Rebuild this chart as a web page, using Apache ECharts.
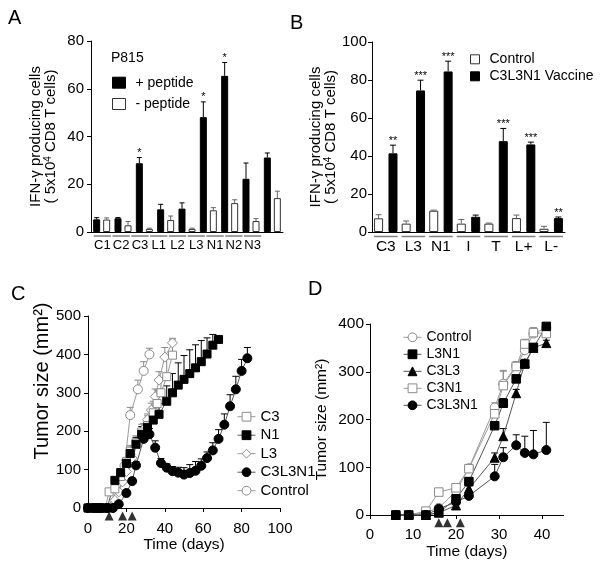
<!DOCTYPE html>
<html><head><meta charset="utf-8">
<script src="https://cdn.jsdelivr.net/npm/echarts@6/dist/echarts.min.js"></script>
<style>html,body{margin:0;padding:0;background:#fff}#c{width:600px;height:571px}</style>
</head><body><div id="c"></div>
<script>
// ---------- Panel A ----------
const catA = ['C1','C2','C3','L1','L2','L3','N1','N2','N3'];
const plusA = [5.3,5.75,28.8,9.5,9.8,48.1,65.4,22.3,31.2];
const plusErrA = [0.7,0.3,2.4,2.1,2.4,6.4,5.6,6.6,1.9];
const minusA = [5.2,2.8,1.3,5.0,1.3,9.1,12.1,4.6,14.2];
const minusErrA = [0.7,1.6,0.3,1.7,0.3,1.1,1.4,1.0,2.9];
const starsA = ['','','*','','','*','*','',''];

// ---------- Panel B ----------
const catB = ['C3','L3','N1','I','T','L+','L-'];
const controlB = [7.2,4.4,11.2,4.4,4.4,7.3,1.7];
const controlErrB = [1.9,1.4,0.3,2.2,0.3,1.6,1.3];
const vaccineB = [41.4,74.5,84.5,8.0,47.8,46.1,7.3];
const vaccineErrB = [4.3,5.4,5.4,0.9,6.7,1.2,0.6];
const starsB = ['**','***','***','','***','***','**'];

// ---------- Panel C ----------
const daysC_C3 = [0,3,5,7,9,11,14,17,20,22,25,28,31,34,36,38,41,44];
const valC_C3  = [0,0,0,0,0,42,50,82,120,148,170,198,215,248,272,300,342,398];
const errC_C3  = [0,0,0,0,0,5,8,10,12,15,18,20,25,30,35,40,55,40];
const daysC_N1 = [0,3,5,7,10,14,17,20,22,25,28,31,34,37,41,44,47,50,53,56,59,62,65,68];
const valC_N1  = [0,0,0,0,0,72,92,116,142,166,192,210,229,244,278,300,320,335,350,365,381,401,424,439];
const errC_N1  = [0,0,0,0,0,8,10,12,16,18,20,22,25,28,40,50,58,62,62,60,55,42,28,10];
const daysC_L3 = [0,3,5,7,10,14,16,18,20,23,26,29,31,33,35,37,40,44];
const valC_L3  = [0,0,0,0,0,20,42,68,95,130,170,205,230,255,290,333,393,430];
const errC_L3  = [0,0,0,0,0,4,5,6,8,10,12,15,15,18,20,22,25,12];
const daysC_V  = [0,3,5,7,10,13,16,20,23,25,29,32,35,38,41,44,47,50,53,56,59,62,65,68,71,74,77,80,83];
const valC_V   = [0,0,0,0,0,0,10,39,70,111,180,192,157,117,105,96,92,87,91,97,110,130,150,180,217,265,309,357,390];
const errC_V   = [0,0,0,0,0,0,3,5,8,10,12,15,18,12,10,12,14,18,22,24,18,16,20,24,28,30,34,30,28];
const daysC_Ct = [0,3,5,7,10,13,16,19,22,26,29,32];
const valC_Ct  = [0,0,0,0,0,5,30,110,242,309,357,400];
const errC_Ct  = [0,0,0,0,0,3,8,15,20,24,24,16];
const treatC   = [11,18,23];

// ---------- Panel D ----------
const daysD = [6,9,13,16,20,23,29,31,34,36,38,41];
const valD_Ct   = [0,0,5,15,50,98,225,275,312,345,380,392];
const errD_Ct   = [0,0,2,4,6,8,10,28,8,10,12,5];
const valD_L3N1 = [0,0,0,5,34,70,187,234,285,316,351,395];
const errD_L3N1 = [0,0,0,2,5,6,8,10,8,8,6,5];
const valD_C3L3 = [0,0,0,5,20,55,120,165,255,318,350,360];
const errD_C3L3 = [0,0,0,3,5,6,10,16,8,8,8,6];
const valD_C3N1 = [0,0,8,48,57,97,212,271,311,358,382,380];
const errD_C3N1 = [0,0,3,6,6,8,10,30,10,10,10,8];
const valD_V    = [0,0,0,13,27,40,81,121,146,130,127,136];
const errD_V    = [0,0,0,3,4,6,25,20,22,35,50,58];
const treatD    = [16,18,21];
const ticksD    = [0,10,20,30,40];

const F = 'Liberation Sans, Arial, Helvetica, sans-serif';
const chart = echarts.init(document.getElementById('c'));

function yAx(grid, max, interval, extra) {
  return Object.assign({
    type:'value', gridIndex:grid, min:0, max:max, interval:interval,
    axisLine:{show:true, lineStyle:{color:'#000', width:1}},
    axisTick:{show:true, length:4, lineStyle:{color:'#000'}},
    splitLine:{show:false},
    axisLabel:{color:'#000', fontSize:15, fontFamily:F, margin:7}
  }, extra || {});
}
const ifnName = '{a|IFN-γ producing cells}\n{a|( 5x10}{s|4}{a| CD8 T cells)}';
const ifnStyle = {color:'#000', fontFamily:F, fontSize:15, lineHeight:15,
  rich:{a:{fontSize:15, fontFamily:F, color:'#000', lineHeight:15},
        s:{fontSize:10, fontFamily:F, color:'#000', verticalAlign:'top', lineHeight:10}}};

function barErr(vals, errs, stars, offset, color, cap) {
  return function(params, api) {
    const i = params.dataIndex;
    const base = api.coord([i, vals[i]]);
    const top = api.coord([i, vals[i] + errs[i]]);
    const x = base[0] + offset;
    const ch = [
      {type:'line', shape:{x1:x, y1:base[1], x2:x, y2:top[1]}, style:{stroke:color, lineWidth:1}},
      {type:'line', shape:{x1:x-cap/2, y1:top[1], x2:x+cap/2, y2:top[1]}, style:{stroke:color, lineWidth:1}}
    ];
    if (stars && stars[i]) {
      ch.push({type:'text', x:x, y:top[1]+1, style:{text:stars[i], fontSize:11, fontFamily:F, fill:'#000', align:'center', verticalAlign:'bottom'}});
    }
    return {type:'group', children:ch};
  };
}
function underline(frac, dy) {
  return function(params, api) {
    const c = api.coord([params.dataIndex, 0]);
    const bw = api.size([1, 0])[0];
    return {type:'line', shape:{x1:c[0]-bw*frac, y1:c[1]+dy, x2:c[0]+bw*frac, y2:c[1]+dy},
            style:{stroke:'#808080', lineWidth:1.5}};
  };
}
function ptErr(color) {
  return function(params, api) {
    const x = api.value(0), y = api.value(1), e = api.value(2);
    if (!e) return null;
    const b = api.coord([x, y]), t = api.coord([x, y + e]);
    return {type:'group', children:[
      {type:'line', shape:{x1:b[0], y1:b[1], x2:t[0], y2:t[1]}, style:{stroke:color, lineWidth:1}},
      {type:'line', shape:{x1:t[0]-3.5, y1:t[1], x2:t[0]+3.5, y2:t[1]}, style:{stroke:color, lineWidth:1}}
    ]};
  };
}
function lineSeries(name, xi, days, vals, symbol, size, fill, border, lineColor) {
  return {type:'line', name:name, xAxisIndex:xi, yAxisIndex:xi, data:days.map((d,i)=>[d, vals[i]]),
    symbol:symbol, symbolSize:size, showSymbol:true, silent:true, z:3,
    itemStyle:{color:fill, borderColor:border, borderWidth:1},
    lineStyle:{color:lineColor, width:1}};
}
function errSeries(xi, days, vals, errs, color) {
  return {type:'custom', xAxisIndex:xi, yAxisIndex:xi, silent:true, z:2, clip:false,
    data:days.map((d,i)=>[d, vals[i], errs[i]]), encode:{x:0, y:1}, renderItem:ptErr(color)};
}
const GRAY = '#8a8a8a', GLINE = '#9a9a9a', BLINE = '#555';

const option = {
  animation:false,
  backgroundColor:'#fff',
  textStyle:{fontFamily:F},
  grid:[
    {left:91, top:41, width:192, height:191},
    {left:93, top:232, width:169, height:4},
    {left:372, top:42, width:193, height:190},
    {left:88, top:316, width:192, height:192},
    {left:370, top:324, width:193.5, height:191}
  ],
  xAxis:[
    {type:'category', gridIndex:0, data:catA, axisLine:{lineStyle:{color:'#000'}}, axisTick:{show:false}, axisLabel:{show:false}},
    {type:'category', gridIndex:1, data:catA, axisLine:{show:false}, axisTick:{show:false},
      axisLabel:{color:'#000', fontSize:13, fontFamily:F, margin:3, interval:0}},
    {type:'category', gridIndex:2, data:catB, axisLine:{lineStyle:{color:'#000'}}, axisTick:{show:false},
      axisLabel:{color:'#000', fontSize:15.5, fontFamily:F, margin:7, interval:0}},
    {type:'value', gridIndex:3, min:0, max:100, interval:20, splitLine:{show:false},
      axisLine:{lineStyle:{color:'#000'}}, axisTick:{length:4, lineStyle:{color:'#000'}},
      axisLabel:{color:'#000', fontSize:15, fontFamily:F, margin:13},
      name:'Time (days)', nameLocation:'middle', nameGap:28, nameTextStyle:{color:'#000', fontSize:15.5, fontFamily:F}},
    {type:'value', gridIndex:4, min:0, max:45, splitLine:{show:false},
      axisLine:{lineStyle:{color:'#000'}}, axisTick:{length:4, lineStyle:{color:'#000'}, customValues:ticksD},
      axisLabel:{color:'#000', fontSize:15, fontFamily:F, margin:12, customValues:ticksD},
      name:'Time (days)', nameLocation:'middle', nameGap:29, nameTextStyle:{color:'#000', fontSize:15.5, fontFamily:F}}
  ],
  yAxis:[
    yAx(0, 80, 20, {name:ifnName, nameLocation:'middle', nameGap:33, nameTextStyle:ifnStyle}),
    {type:'value', gridIndex:1, min:0, max:1, show:false},
    yAx(2, 100, 20, {axisLabel:{color:'#000', fontSize:15, fontFamily:F, margin:5},
      name:ifnName, nameLocation:'middle', nameGap:32, nameTextStyle:Object.assign({}, ifnStyle, {lineHeight:14})}),
    yAx(3, 500, 100, {name:'Tumor size (mm²)', nameLocation:'middle', nameGap:35,
      nameTextStyle:{color:'#000', fontSize:20, fontFamily:F, padding:[0,0,0,62]}}),
    yAx(4, 400, 100, {axisLabel:{color:'#000', fontSize:15.5, fontFamily:F, margin:6},
      name:'Tumor size (mm²)', nameLocation:'middle', nameGap:40,
      nameTextStyle:{color:'#000', fontSize:15.5, fontFamily:F}})
  ],
  legend:[
    {left:107, top:70.7, orient:'vertical', data:['+ peptide','- peptide'], icon:'rect', itemWidth:13, itemHeight:11, itemGap:7.3,
      selectedMode:false, itemStyle:{borderWidth:1}, textStyle:{color:'#000', fontSize:14, fontFamily:F, padding:[0,0,0,5]}},
    {left:465, top:47.3, orient:'vertical', data:['Control','C3L3N1 Vaccine'], icon:'rect', itemWidth:9, itemHeight:9, itemGap:3,
      selectedMode:false, itemStyle:{borderWidth:1}, textStyle:{color:'#000', fontSize:14, fontFamily:F, padding:[0,0,0,5]}},
    {left:232, top:404.2, orient:'vertical', data:['C3#C','N1#C','L3#C','C3L3N1#C','Control#C'], itemWidth:18, itemHeight:11, itemGap:3.5,
      selectedMode:false, itemStyle:{borderWidth:1}, lineStyle:{width:1},
      formatter:n=>n.split('#')[0], textStyle:{color:'#000', fontSize:15, fontFamily:F}},
    {left:398, top:325.3, orient:'vertical', data:['Control#D','L3N1#D','C3L3#D','C3N1#D','C3L3N1#D'], itemWidth:18, itemHeight:11, itemGap:3,
      selectedMode:false, itemStyle:{borderWidth:1}, lineStyle:{width:1},
      formatter:n=>n.split('#')[0], textStyle:{color:'#000', fontSize:14, fontFamily:F}}
  ],
  graphic:[
    {type:'text', left:8, top:8, style:{text:'A', font:'20px '+F, fill:'#000'}},
    {type:'text', left:290, top:13, style:{text:'B', font:'20px '+F, fill:'#000'}},
    {type:'text', left:11, top:284, style:{text:'C', font:'20px '+F, fill:'#000'}},
    {type:'text', left:308, top:279, style:{text:'D', font:'20px '+F, fill:'#000'}},
    {type:'text', left:111, top:51, style:{text:'P815', font:'14px '+F, fill:'#000'}}
  ],
  series:[
    // Panel A
    {type:'bar', name:'+ peptide', xAxisIndex:0, yAxisIndex:0, data:plusA, barWidth:7, barGap:'43%', silent:true,
      itemStyle:{color:'#000', borderColor:'#000', borderWidth:1}},
    {type:'bar', name:'- peptide', xAxisIndex:0, yAxisIndex:0, data:minusA, barWidth:7, barGap:'43%', silent:true,
      itemStyle:{color:'#fff', borderColor:'#333', borderWidth:1}},
    {type:'custom', xAxisIndex:0, yAxisIndex:0, data:plusA.map((v,i)=>[i,v]), encode:{x:0,y:1}, clip:false, silent:true, z:3,
      renderItem:barErr(plusA, plusErrA, starsA, -5, '#000', 5)},
    {type:'custom', xAxisIndex:0, yAxisIndex:0, data:minusA.map((v,i)=>[i,v]), encode:{x:0,y:1}, clip:false, silent:true, z:3,
      renderItem:barErr(minusA, minusErrA, null, 5, '#666', 5)},
    {type:'custom', xAxisIndex:1, yAxisIndex:1, data:catA.map((c,i)=>[i,0]), encode:{x:0,y:1}, clip:false, silent:true,
      renderItem:underline(0.46, 0)},
    // Panel B
    {type:'bar', name:'Control', xAxisIndex:2, yAxisIndex:2, data:controlB, barWidth:9, barGap:'60%', silent:true,
      itemStyle:{color:'#fff', borderColor:'#333', borderWidth:1}},
    {type:'bar', name:'C3L3N1 Vaccine', xAxisIndex:2, yAxisIndex:2, data:vaccineB, barWidth:9, barGap:'60%', silent:true,
      itemStyle:{color:'#000', borderColor:'#000', borderWidth:1}},
    {type:'custom', xAxisIndex:2, yAxisIndex:2, data:controlB.map((v,i)=>[i,v]), encode:{x:0,y:1}, clip:false, silent:true, z:3,
      renderItem:barErr(controlB, controlErrB, null, -7.2, '#666', 6)},
    {type:'custom', xAxisIndex:2, yAxisIndex:2, data:vaccineB.map((v,i)=>[i,v]), encode:{x:0,y:1}, clip:false, silent:true, z:3,
      renderItem:barErr(vaccineB, vaccineErrB, starsB, 7.2, '#000', 6)},
    {type:'custom', xAxisIndex:2, yAxisIndex:2, data:catB.map((c,i)=>[i,0]), encode:{x:0,y:1}, clip:false, silent:true,
      renderItem:underline(0.43, 4.5)},
    // Panel C
    errSeries(3, daysC_Ct, valC_Ct, errC_Ct, GRAY),
    errSeries(3, daysC_L3, valC_L3, errC_L3, GRAY),
    errSeries(3, daysC_C3, valC_C3, errC_C3, GRAY),
    errSeries(3, daysC_N1, valC_N1, errC_N1, '#000'),
    errSeries(3, daysC_V, valC_V, errC_V, '#000'),
    lineSeries('Control#C', 3, daysC_Ct, valC_Ct, 'circle', 9, '#fff', GRAY, GLINE),
    lineSeries('L3#C', 3, daysC_L3, valC_L3, 'diamond', 10, '#fff', GRAY, GLINE),
    lineSeries('C3#C', 3, daysC_C3, valC_C3, 'rect', 8, '#fff', GRAY, GLINE),
    lineSeries('N1#C', 3, daysC_N1, valC_N1, 'rect', 8, '#000', '#000', BLINE),
    lineSeries('C3L3N1#C', 3, daysC_V, valC_V, 'circle', 9, '#000', '#000', BLINE),
    {type:'scatter', xAxisIndex:3, yAxisIndex:3, data:treatC.map(d=>[d,-21]), symbol:'triangle', symbolSize:9,
      clip:false, silent:true, itemStyle:{color:'#000'}},
    // Panel D
    errSeries(4, daysD, valD_Ct, errD_Ct, GRAY),
    errSeries(4, daysD, valD_C3N1, errD_C3N1, GRAY),
    errSeries(4, daysD, valD_L3N1, errD_L3N1, '#000'),
    errSeries(4, daysD, valD_C3L3, errD_C3L3, '#000'),
    errSeries(4, daysD, valD_V, errD_V, '#000'),
    lineSeries('Control#D', 4, daysD, valD_Ct, 'circle', 9, '#fff', GRAY, GLINE),
    lineSeries('C3N1#D', 4, daysD, valD_C3N1, 'rect', 8.5, '#fff', GRAY, GLINE),
    lineSeries('C3L3#D', 4, daysD, valD_C3L3, 'triangle', 9, '#000', '#000', BLINE),
    lineSeries('L3N1#D', 4, daysD, valD_L3N1, 'rect', 8.5, '#000', '#000', BLINE),
    lineSeries('C3L3N1#D', 4, daysD, valD_V, 'circle', 9, '#000', '#000', BLINE),
    {type:'scatter', xAxisIndex:4, yAxisIndex:4, data:treatD.map(d=>[d,-16]), symbol:'triangle', symbolSize:9,
      clip:false, silent:true, itemStyle:{color:'#000'}}
  ]
};
chart.setOption(option);
</script>
</body></html>
